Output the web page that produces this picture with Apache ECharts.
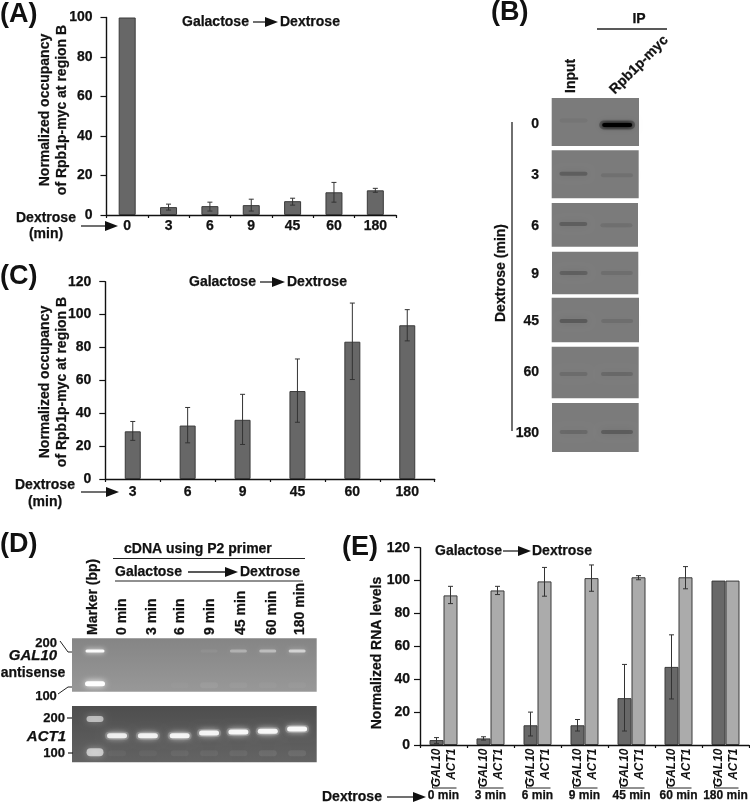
<!DOCTYPE html>
<html><head><meta charset="utf-8">
<style>html,body{margin:0;padding:0;background:#fff}#c{width:750px;height:802px}</style>
<script src="https://cdn.jsdelivr.net/npm/echarts@6/dist/echarts.min.js"></script>
</head><body><div id="c"></div>
<script>
// ---------- panel A ----------
const aCats = ['0','3','6','9','45','60','180'];
const aVals = [100,4,4.5,5,7,11.5,12.5];
const aLow  = [null,2.5,2,2,5,6.5,11.5];
const aHigh = [null,5.5,6.5,8,8.5,16.5,13.5];
// ---------- panel C ----------
const cCats = ['3','6','9','45','60','180'];
const cVals = [29,32.5,36,53.5,83.5,93.5];
const cLow  = [23.5,22,21,34.5,60.5,84];
const cHigh = [35,43.5,51.5,73,107,103];
// ---------- panel E ----------
const eCats = ['0 min','3 min','6 min','9 min','45 min','60 min','180 min'];
const eGenes = ['GAL10','ACT1'];
const eGal  = [3,4,12,12,28.5,47.5,100];
const eGalLow  = [1,3,5.5,8.5,8.5,28,null];
const eGalHigh = [4.5,5,20,15.5,49,67,null];
const eAct  = [91,94,99.5,101.5,102,102,100];
const eActLow  = [86,91.5,90.5,93.5,100.5,95,null];
const eActHigh = [96.5,96.5,108,109.5,103,108.5,null];
// ---------- panel B (blot) ----------
const blotTimes = ['0','3','6','9','45','60','180'];
const blotLanes = ['Input','Rpb1p-myc'];
const blotInput = [0.10,0.50,0.50,0.48,0.58,0.28,0.32];
const blotIP    = [1.00,0.18,0.20,0.22,0.22,0.32,0.52];
const blotBand  = [56,49,48,50,52,53,59];
// ---------- panel D (gels) ----------
const gelLanes = ['0 min','3 min','6 min','9 min','45 min','60 min','180 min'];
const gelLanePos = [18.4,31,44,56,68,80,92];
const markerPos = 9.4;
const gal10Signal = [0,0,0,0.07,0.38,0.5,0.72];
const gal10Smear  = [0,0,0.02,0.06,0.04,0.03,0.03];
const act1Signal = [0.82,0.85,0.88,0.88,0.9,0.9,0.92];
const act1Band   = [53,53,53,48,46,45,41];
const act1Smear  = [0.04,0.04,0.05,0.05,0.06,0.08,0.08];

const FF = '"Liberation Sans", Arial, sans-serif';
const g = [];
function T(x,y,text,o={}){
  g.push({type:'text',x,y,rotation:o.rot||0,z:20,style:{text,fontFamily:FF,
    fontWeight:o.w||'bold',fontStyle:o.i?'italic':'normal',fontSize:o.s||14,fill:'#111',
    stroke:'#111',lineWidth:o.s>20?0:0.25,
    align:o.a||'left',verticalAlign:'middle',lineHeight:o.lh||undefined}});
}
function L(pts,w){ g.push({type:'polyline',z:20,shape:{points:pts},style:{stroke:'#222',lineWidth:w||1.2,fill:null}}); }
function Arrow(x0,x1,y,head){
  head=head||12;
  L([[x0,y],[x1-head,y]],1.3);
  g.push({type:'polygon',z:20,shape:{points:[[x1-head,y-5],[x1,y],[x1-head,y+5]]},style:{fill:'#111'}});
}
const grids=[],xAxes=[],yAxes=[],series=[];
const axisLine={show:true,lineStyle:{color:'#111',width:1.4}};
const labelInk={color:'#111',fontFamily:FF,fontWeight:'bold',textBorderColor:'#111',textBorderWidth:0.25};
function barChart(pos,cats,ymax,labelMargin,xMargin,xSize){
  const i=grids.length;
  grids.push(Object.assign({containLabel:false,outerBoundsMode:'none'},pos));
  xAxes.push({type:'category',gridIndex:i,data:cats,axisLine,axisTick:{show:true,length:3,alignWithLabel:false,lineStyle:{color:'#111',width:1.2}},
    axisLabel:Object.assign({},labelInk,{fontSize:xSize,margin:xMargin,interval:0}),splitLine:{show:false}});
  yAxes.push({type:'value',gridIndex:i,min:0,max:ymax,interval:20,axisLine,axisTick:{show:true,length:6,lineStyle:{color:'#111',width:1.2}},
    axisLabel:Object.assign({},labelInk,{fontSize:14,margin:labelMargin}),splitLine:{show:false}});
  return i;
}
function bars(i,vals,w,color,name){
  series.push({type:'bar',name,xAxisIndex:i,yAxisIndex:i,data:vals,barWidth:w,barGap:0,silent:true,animation:false,
    itemStyle:{color,borderColor:'#3a3a3a',borderWidth:1}});
}
function errs(i,low,high,off){
  const data=low.map((v,k)=>[k,v,high[k]]).filter(d=>d[1]!=null);
  series.push({type:'custom',xAxisIndex:i,yAxisIndex:i,silent:true,animation:false,z:5,data,encode:{x:0,y:[1,2]},
    renderItem(p,api){
      const a=api.coord([api.value(0),api.value(1)]),b=api.coord([api.value(0),api.value(2)]);
      const x=a[0]+(off||0),st={stroke:'#333',lineWidth:1,fill:null};
      const ln=(x1,y1,x2,y2)=>({type:'line',shape:{x1,y1,x2,y2},style:st});
      return {type:'group',children:[ln(x,a[1],x,b[1]),ln(x-2.5,a[1],x+2.5,a[1]),ln(x-2.5,b[1],x+2.5,b[1])]};
    }});
}
// Panel A
const ga=barChart({left:106.5,top:17.5,width:289.5,height:197.5},aCats,100,14,4,14);
bars(ga,aVals,17,'#676767','Occupancy'); errs(ga,aLow,aHigh);
// Panel C
const gc=barChart({left:105.3,top:281.7,width:329.4,height:197.3},cCats,120,14,6,14);
bars(gc,cVals,16,'#676767','Occupancy'); errs(gc,cLow,cHigh);
// Panel E
const ge=barChart({left:420,top:547.7,width:329,height:197.3},eCats,120,10,45,12);
bars(ge,eGal,14,'#686868',eGenes[0]); bars(ge,eAct,14,'#ababab',eGenes[1]);
errs(ge,eGalLow,eGalHigh,-7); errs(ge,eActLow,eActHigh,7);
series.push({type:'custom',xAxisIndex:ge,yAxisIndex:ge,silent:true,animation:false,clip:false,
  data:eCats.map((c,k)=>[k,0]),encode:{x:0,y:1},
  renderItem(p,api){
    const c=api.coord([api.value(0),0]);
    const tx=(t,x)=>({type:'text',x,y:c[1]+3.5,rotation:Math.PI/2,style:{text:t,fontFamily:FF,fontWeight:'bold',fontStyle:'italic',fontSize:12,fill:'#111',align:'right',verticalAlign:'middle'}});
    const st={stroke:'#222',lineWidth:1};
    return {type:'group',children:[tx(eGenes[0],c[0]-7),tx(eGenes[1],c[0]+8.5),
      {type:'line',shape:{x1:c[0]-11,y1:c[1]+43,x2:c[0]+13,y2:c[1]+43},style:st},
      {type:'line',shape:{x1:c[0]-11,y1:c[1]+32,x2:c[0]-11,y2:c[1]+43},style:st}]};
  }});
// Gel helpers
function gelGrid(pos,bg){
  const i=grids.length;
  grids.push(Object.assign({show:true,backgroundColor:bg,borderWidth:0,containLabel:false,outerBoundsMode:'none'},pos));
  return i;
}
function gelBands(i,data,color,w,h,blur){
  series.push({type:'custom',xAxisIndex:i,yAxisIndex:i,silent:true,animation:false,data,
    encode:{x:0,y:1},
    renderItem(p,api){
      const c=api.coord([api.value(0),api.value(1)]),a=api.value(2);
      return {type:'rect',shape:{x:c[0]-w/2,y:c[1]-h/2,width:w,height:h,r:h/2},
        style:{fill:`rgba(${color},${a})`,shadowBlur:blur,shadowColor:`rgba(${color},${a})`}};
    }});
}
// Panel B
const blotPos=[[551.7,98,87.3,48],[551.7,150.3,87,48],[551.7,203,86.3,43.7],[552,251.7,86.3,42.6],[551.7,297.7,87.3,44.6],[551.7,346.7,87,51.6],[552,403,86.7,49]];
blotTimes.forEach((t,k)=>{
  const [left,top,width,height]=blotPos[k];
  const i=gelGrid({left,top,width,height},'#7b7b7b');
  xAxes.push({type:'category',gridIndex:i,data:blotLanes,show:false});
  yAxes.push({type:'value',gridIndex:i,min:0,max:100,inverse:true,show:false});
  gelBands(i,[[0,blotBand[k]-(k==0?9:0),blotInput[k]*0.55]],'25,25,25',28,4,7);
  if(k==0){
    gelBands(i,[[1,blotBand[k],0.25]],'0,0,0',36,9,7);
    gelBands(i,[[1,blotBand[k],1]],'0,0,0',30,4,4);
  } else {
    gelBands(i,[[1,blotBand[k]+(k<3?3:0),blotIP[k]*0.55]],'25,25,25',32,4,7);
  }
});
// Panel D
function gelAxes(i){
  xAxes.push({type:'value',gridIndex:i,min:0,max:100,show:false});
  yAxes.push({type:'value',gridIndex:i,min:0,max:100,inverse:true,show:false});
}
const g1=gelGrid({left:72,top:638.3,width:244.7,height:53.4},{type:'linear',x:0,y:0,x2:0,y2:1,colorStops:[{offset:0,color:'#858585'},{offset:1,color:'#989898'}]});
gelAxes(g1);
gelBands(g1,gelLanes.map((l,k)=>[gelLanePos[k],88,gal10Smear[k]]),'255,255,255',18,6,14);
gelBands(g1,gelLanes.map((l,k)=>[gelLanePos[k],24,gal10Signal[k]*0.8]),'255,255,255',17,3,5);
gelBands(g1,[[markerPos,24,0.95]],'255,255,255',19,3,5);
gelBands(g1,[[markerPos,85,1]],'255,255,255',20,5,6);
const g2=gelGrid({left:72,top:706,width:244.7,height:56.3},{type:'linear',x:0,y:0,x2:0,y2:1,colorStops:[{offset:0,color:'#4e4e4e'},{offset:0.6,color:'#5a5a5a'},{offset:1,color:'#626262'}]});
gelAxes(g2);
gelBands(g2,gelLanes.map((l,k)=>[gelLanePos[k],84,act1Smear[k]]),'255,255,255',18,6,14);
gelBands(g2,gelLanes.map((l,k)=>[gelLanePos[k],act1Band[k],0.18]),'255,255,255',24,8,9);
gelBands(g2,gelLanes.map((l,k)=>[gelLanePos[k],act1Band[k],act1Signal[k]]),'255,255,255',20,5,6);
gelBands(g2,[[markerPos,23,0.55]],'255,255,255',17,6,7);
gelBands(g2,[[markerPos,82,0.6]],'255,255,255',17,8,7);

// ---------- annotations ----------
const ROT=Math.PI/2;
T(0,15,'(A)',{s:27}); T(491,13,'(B)',{s:27}); T(0,277,'(C)',{s:27}); T(0,545,'(D)',{s:27}); T(342,548,'(E)',{s:27});
// A
T(182,22,'Galactose'); Arrow(253,278,22,13); T(280,22,'Dextrose');
T(45,110,'Normalized occupancy',{rot:ROT,a:'center'}); T(62,110,'of Rpb1p-myc at region B',{rot:ROT,a:'center'});
T(16,218,'Dextrose'); T(46,234,'(min)',{a:'center'}); Arrow(81,118,226,13);
// C
T(189,282,'Galactose'); Arrow(260,285,282,13); T(287,282,'Dextrose');
T(45,382,'Normalized occupancy',{rot:ROT,a:'center'}); T(62,382,'of Rpb1p-myc at region B',{rot:ROT,a:'center'});
T(15,485,'Dextrose'); T(45,502,'(min)',{a:'center'}); Arrow(81,119,492,13);
// E
T(435,551,'Galactose'); Arrow(503,531,551,13); T(532,551,'Dextrose');
T(377,653,'Normalized RNA levels',{rot:ROT,a:'center'});
T(322,797,'Dextrose'); Arrow(387,426,797,13);
// B
T(639,19,'IP',{a:'center'}); L([[597,29],[667,29]],1.3);
T(571,93,'Input',{rot:ROT}); T(612,92,'Rpb1p-myc',{rot:Math.PI/4});
const blotY=[124,175,226,274,321,372,433];
blotTimes.forEach((t,k)=>T(539,blotY[k],t,{a:'right'}));
L([[512,122],[512,431]],1.3);
T(501,273,'Dextrose (min)',{rot:ROT,a:'center'});
// D
T(124,549,'cDNA using P2 primer'); L([[113,558.5],[305,558.5]],1.2);
T(115,572,'Galactose'); Arrow(188,238,572,13); T(240,572,'Dextrose'); L([[115,581],[303,581]],1.2);
T(93,635,'Marker (bp)',{rot:ROT});
const dX=[122,152,180,210,241,272,300];
gelLanes.forEach((t,k)=>T(dX[k],635,t,{rot:ROT}));
T(57,643,'200',{a:'right',s:13}); L([[60,641],[68,652],[72,652]],1);
T(33,656,'GAL10',{a:'center',i:true,s:15}); T(33,673,'antisense',{a:'center'});
T(46,696,'100',{a:'center',s:13}); L([[58,694],[68,687],[72,687]],1);
T(65,718,'200',{a:'right',s:13}); L([[67,718],[72,718]],1.2);
T(66,737,'ACT1',{a:'right',i:true,s:15});
T(65,753,'100',{a:'right',s:13}); L([[68,753],[73,753]],1.2);

const chart=echarts.init(document.getElementById('c'),null,{renderer:'canvas'});
chart.setOption({animation:false,backgroundColor:'#fff',grid:grids,xAxis:xAxes,yAxis:yAxes,series,graphic:g});
</script></body></html>
